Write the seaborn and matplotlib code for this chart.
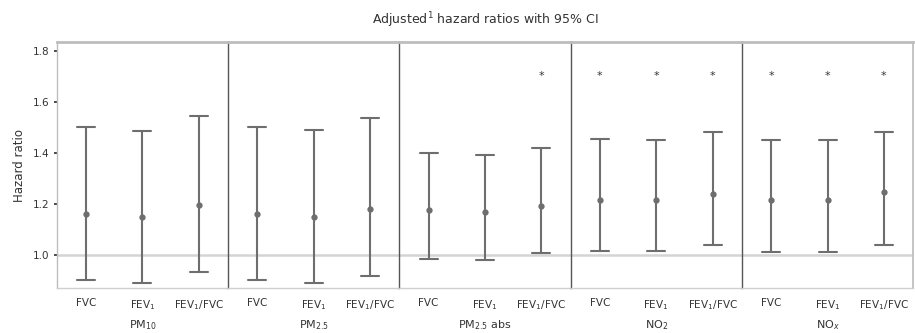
import numpy as np
import pandas as pd
import matplotlib
matplotlib.use("Agg")
import matplotlib.pyplot as plt
import seaborn as sns

pollutants = ["PM$_{10}$", "PM$_{2.5}$", "PM$_{2.5}$ abs", "NO$_2$", "NO$_x$"]
outcomes = ["FVC", "FEV$_1$", "FEV$_1$/FVC"]
hr = [[1.16, 1.15, 1.196],
      [1.16, 1.15, 1.18],
      [1.176, 1.167, 1.193],
      [1.216, 1.216, 1.238],
      [1.216, 1.214, 1.245]]
lower = [[0.90, 0.89, 0.933],
         [0.90, 0.89, 0.918],
         [0.984, 0.98, 1.007],
         [1.016, 1.016, 1.04],
         [1.012, 1.012, 1.04]]
upper = [[1.50, 1.486, 1.545],
         [1.50, 1.49, 1.535],
         [1.40, 1.39, 1.418],
         [1.454, 1.452, 1.483],
         [1.452, 1.45, 1.483]]
significant = [[False, False, False],
               [False, False, False],
               [False, False, True],
               [True, True, True],
               [True, True, True]]
yticks = [1.0, 1.2, 1.4, 1.6, 1.8]

sns.set_theme(style="white")
plt.rcParams["font.family"] = ["DejaVu Sans"]

fig, axes = plt.subplots(1, 5, figsize=(9.15, 3.33), dpi=100, sharey=True)
fig.subplots_adjust(left=0.062, right=0.998, top=0.874, bottom=0.135, wspace=0)

txt = "#333333"
for i, ax in enumerate(axes):
    rows = []
    for j, o in enumerate(outcomes):
        for v in (lower[i][j], hr[i][j], upper[i][j]):
            rows.append({"outcome": o, "value": v})
    df = pd.DataFrame(rows)
    ax.axhline(1.0, color="#d4d4d4", lw=1.8, zorder=0)
    sns.pointplot(data=df, x="outcome", y="value", order=outcomes,
                  estimator="median", errorbar=("pi", 100), capsize=0.32,
                  color="#6e6e6e", linestyle="none", marker="o", markersize=2.5,
                  err_kws={"linewidth": 1.5}, ax=ax)
    for j in range(3):
        if significant[i][j]:
            ax.text(j, 1.70, "*", ha="center", va="center", fontsize=8, color=txt)
    ax.set_ylim(0.87, 1.835)
    ax.set_xlim(-0.52, 2.52)
    ax.set_xlabel(pollutants[i], fontsize=8, color=txt, labelpad=5)
    ax.set_ylabel("")
    ax.tick_params(axis="x", labelsize=7.5, colors=txt, length=2, pad=5)
    ax.tick_params(axis="y", labelsize=7.5, colors=txt, length=2, left=(i == 0))
    for s in ["top", "bottom", "left", "right"]:
        ax.spines[s].set_visible(True)
    ax.spines["top"].set_color("#bdbdbd")
    ax.spines["top"].set_linewidth(2)
    ax.spines["bottom"].set_color("#cfcfcf")
    ax.spines["bottom"].set_linewidth(1)
    ax.spines["left"].set_color("#555555" if i > 0 else "#bdbdbd")
    ax.spines["left"].set_linewidth(1)
    ax.spines["right"].set_visible(i == 4)
    ax.spines["right"].set_color("#bdbdbd")

axes[0].set_yticks(yticks)
axes[0].set_yticklabels([f"{t:.1f}" for t in yticks])
axes[0].set_ylabel("Hazard ratio", fontsize=8.5, color=txt, labelpad=5)
fig.text(0.53, 0.94, "Adjusted$^1$ hazard ratios with 95% CI", ha="center",
         va="center", fontsize=9, color=txt)

fig.savefig("out.png", dpi=100)
